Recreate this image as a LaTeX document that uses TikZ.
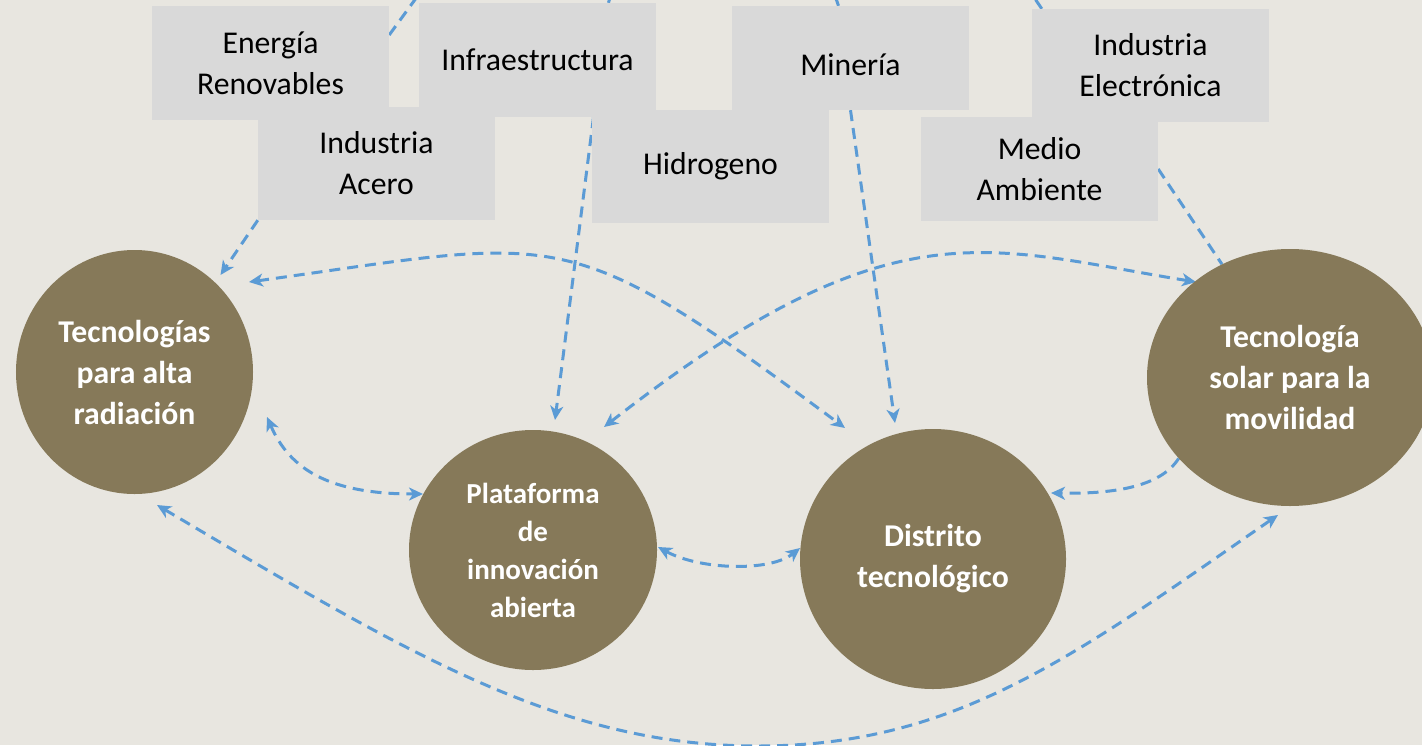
\documentclass[tikz,border=0pt]{standalone}
\usepackage{fontspec}
\setmainfont{Carlito}
\usetikzlibrary{arrows.meta,shapes.geometric,calc}
\definecolor{bgc}{HTML}{E8E6E0}
\definecolor{boxc}{HTML}{D9D9D9}
\definecolor{circc}{HTML}{867959}
\definecolor{linec}{HTML}{5B9BD5}
\pgfdeclarelayer{bg}
\pgfsetlayers{bg,main}
\tikzset{
  box/.style={rectangle, fill=boxc, minimum width=237bp, minimum height=113bp,
    inner sep=0pt, align=center, text=black,
    font=\fontsize{31.7bp}{41bp}\selectfont},
  circ/.style={ellipse, fill=circc, inner sep=0pt, align=center, text=white,
    font=\fontsize{31.7bp}{41bp}\selectfont\bfseries},
  conn/.style={draw=linec, line width=3bp, dash pattern=on 11bp off 7bp},
  arr/.style={-{Stealth[length=14bp,width=13bp,inset=4bp]}},
  arrs/.style={{Stealth[length=14bp,width=13bp,inset=4bp]}-{Stealth[length=14bp,width=13bp,inset=4bp]}}
}
\begin{document}
\begin{tikzpicture}[x=1bp,y=-1bp]
\useasboundingbox (0,0) rectangle (1422,745);
% boxes
\node[box] (E) at (270.5,63) {Energía\\Renovables};
\node[box, minimum height=114bp] (I) at (537.5,60) {Infraestructura};
\node[box] (A) at (376.5,163.5) {Industria\\Acero};
\node[box] (H) at (710.5,166.5) {Hidrogeno};
\node[box, minimum height=104bp, text height=34bp, text depth=0bp] (M) at (850.5,58) {Minería};
\node[box] (X) at (1150.5,65.5) {Industria\\Electrónica};
\node[box, minimum height=104bp] (MA) at (1039.5,169) {Medio\\Ambiente};
% circles
\node[circ, minimum width=237bp, minimum height=244bp] (T) at (134.5,372) {Tecnologías\\para alta\\radiación};
\node[circ, minimum width=248bp, minimum height=240bp,
  font=\fontsize{29bp}{38bp}\selectfont\bfseries] (P) at (533,550) {Plataforma\\de\\innovación\\abierta};
\node[circ, minimum width=266bp, minimum height=260bp] (D) at (933,559) {Distrito\\tecnológico};
\node[circ, minimum width=286bp, minimum height=257bp] (S) at (1290,377.5) {Tecnología\\solar para la\\movilidad};
% free ends above the picture
\coordinate (o1) at (422,-10);
\coordinate (o2) at (612,-10);
\coordinate (o3) at (833,-10);
\coordinate (o4) at (1029,-10);
\begin{pgfonlayer}{bg}
\fill[bgc] (0,0) rectangle (1422,745);
% stubs at the top
\draw[conn] ($(E.east)+(0,-28)$) -- (o1);
\draw[conn] ($(I.north)+(71,0)$) -- (o2);
\draw[conn] ($(M.north)+(-12,0)$) -- (o3);
\draw[conn] ($(X.north west)+(10,0)$) -- (o4);
% box to circle lines
\draw[conn, arr] (A.south west) -- ($(T)+(86,-97)$);
\draw[conn, arr] ($(I.south)+(56,0)$) -- ($(P)+(22,-130)$);
\draw[conn, arr] (M.south) -- ($(D)+(-38,-136)$);
\draw[conn] (MA.east) -- (S.121);
% crossing curves
\draw[conn, arrs] ($(T)+(114.5,-90)$) .. controls (566,238) and (563,219) .. ($(D)+(-88,-131)$);
\draw[conn, arrs] ($(P)+(71,-123)$) .. controls (894,201) and (986,248) .. ($(S)+(-94,-95.5)$);
% short links
\draw[conn, arrs] ($(T)+(132.5,45)$) .. controls (290,470) and (330,494) .. ($(P)+(-110,-56)$);
\draw[conn, arr] (S.216.5) .. controls (1160,488) and (1110,494) .. ($(D)+(118,-66)$);
\draw[conn, arrs] ($(P)+(125,-3)$) .. controls (700,570) and (770,572) .. ($(D)+(-133,-11)$);
% bottom arc
\draw[conn, arrs] ($(T)+(22.5,133)$) .. controls (407,653) and (560,746) .. (758,746)
   .. controls (958,746) and (1078,653) .. ($(S)+(-12,137.5)$);
\end{pgfonlayer}
\end{tikzpicture}
\end{document}
